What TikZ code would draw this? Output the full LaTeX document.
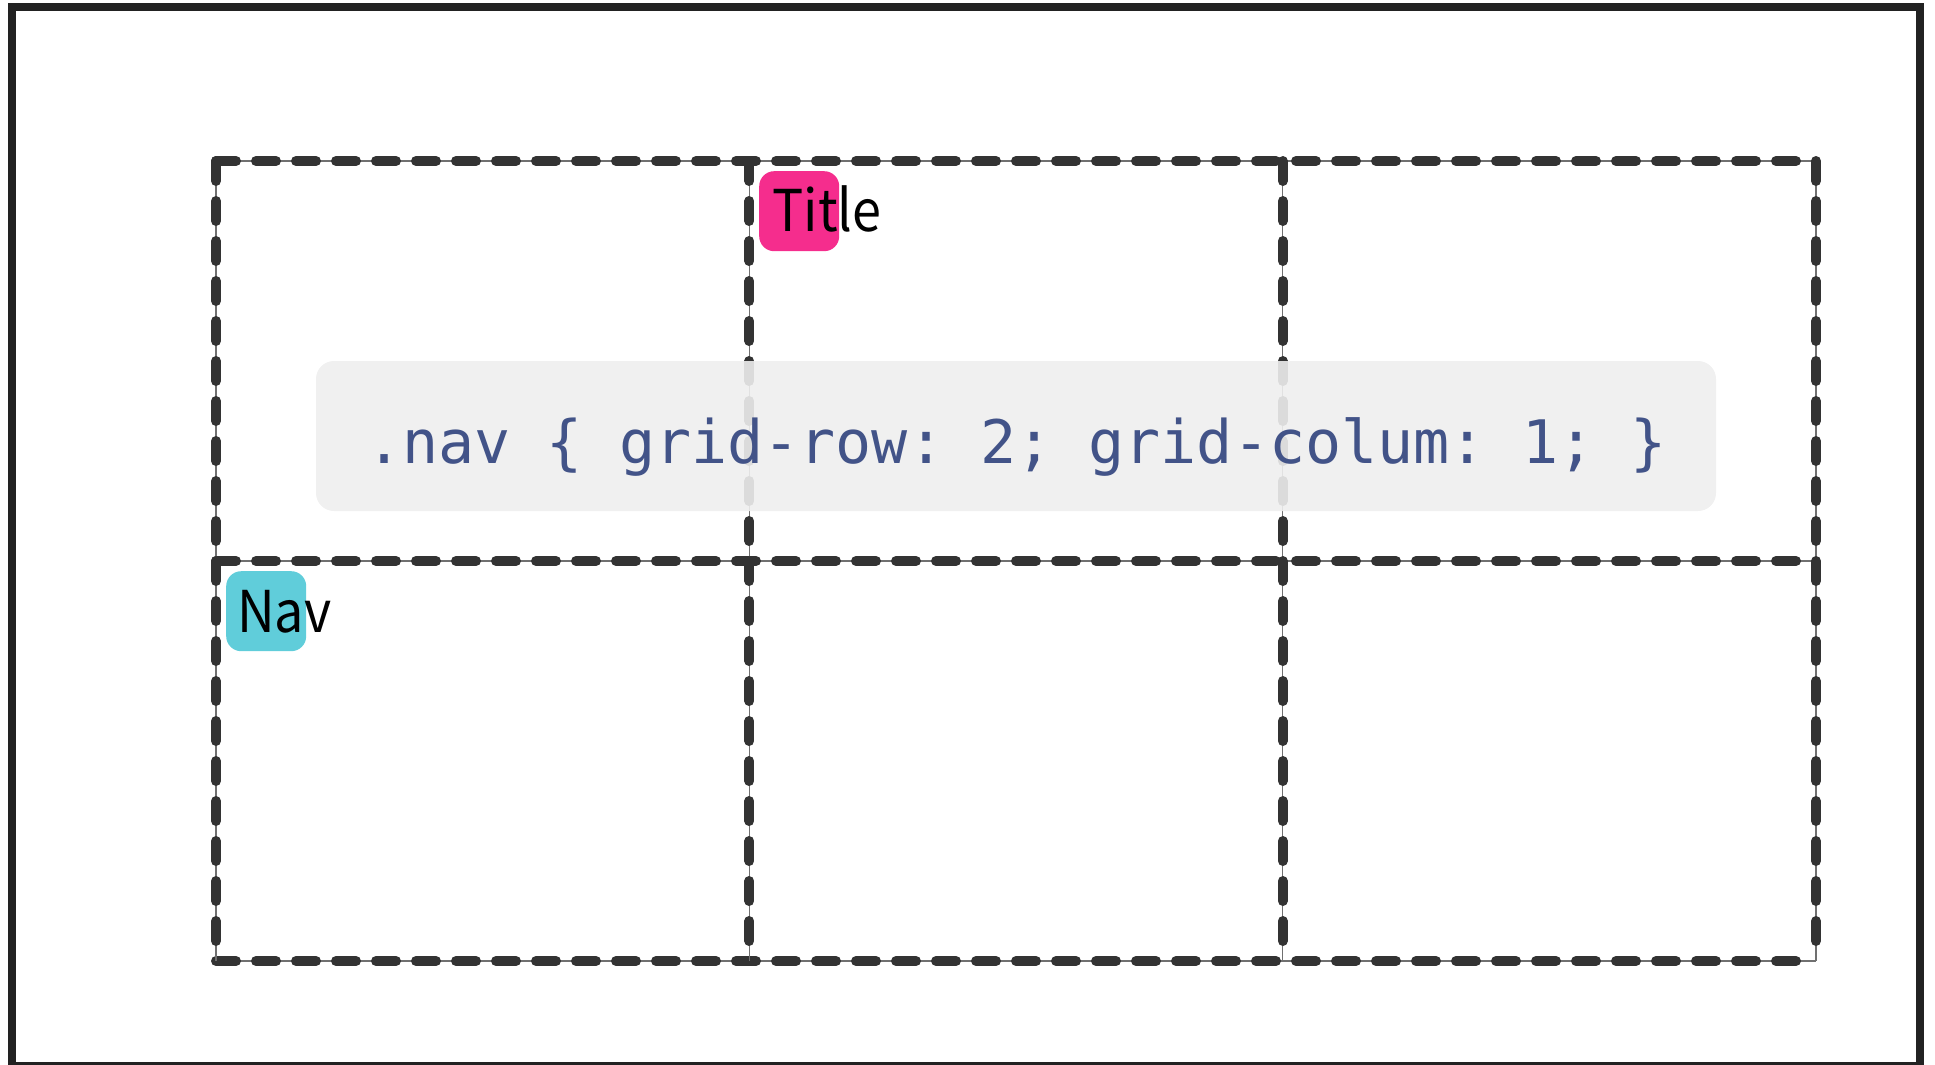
\documentclass[tikz,border=0pt]{standalone}
\usepackage{fontspec}
\setmainfont{Noto Sans CJK JP}[FakeStretch=0.905]
\setmonofont{DejaVu Sans Mono}
\definecolor{framegray}{HTML}{222222}
\definecolor{gridgray}{HTML}{333333}
\definecolor{titlepink}{HTML}{F52D8D}
\definecolor{navcyan}{HTML}{60CDDA}
\definecolor{codebg}{HTML}{EEEEEE}
\definecolor{codeblue}{HTML}{425388}
\tikzset{
 gridline/.style={draw=gridgray,line width=10pt,line cap=round,dash pattern=on 20pt off 20pt,
  preaction={draw=gridgray!70!white,line width=1.5pt,solid}},
 badge/.style={rounded corners=15pt,minimum size=80pt,inner sep=0pt,anchor=north west},
 celltext/.style={inner sep=0pt,anchor=base west,font=\fontsize{57.6}{60}\selectfont},
}
\begin{document}
\begin{tikzpicture}[x=1pt,y=-1pt]
 \useasboundingbox (0,0) rectangle (1935,1065); %枠
 \draw[framegray,line width=8pt] (12,7) rectangle (1920,1066); %外枠
 \draw[gridline] (216,161)--(1815.5,161); %横線1
 \draw[gridline] (216,561)--(1815.5,561); %横線2
 \draw[gridline] (216,961)--(1815.5,961); %横線3
 \draw[gridline] (216,161)--(216,960.5); %縦線1
 \draw[gridline] (749.3,161)--(749.3,960.5); %縦線2
 \draw[gridline] (1282.7,161)--(1282.7,960.5); %縦線3
 \draw[gridline] (1816,161)--(1816,960.5); %縦線4
 \node[badge,fill=titlepink] (titlebadge) at (759,171) {}; %Title
 \node[celltext] (titletext) at (772.5,231) {Title};
 \node[badge,fill=navcyan] (navbadge) at (226,571) {}; %Nav
 \node[celltext] (navtext) at (237,632) {Nav};
 \fill[codebg,fill opacity=0.9,rounded corners=18pt] (316,361) rectangle (1716,511); %コード
 \node[inner sep=0pt,anchor=base west,text=codeblue,font=\ttfamily\fontsize{60}{62}\selectfont\frenchspacing]
  (navcode) at (366,463) {.nav \{ grid-row: 2; grid-colum: 1; \}};
\end{tikzpicture}
\end{document}
